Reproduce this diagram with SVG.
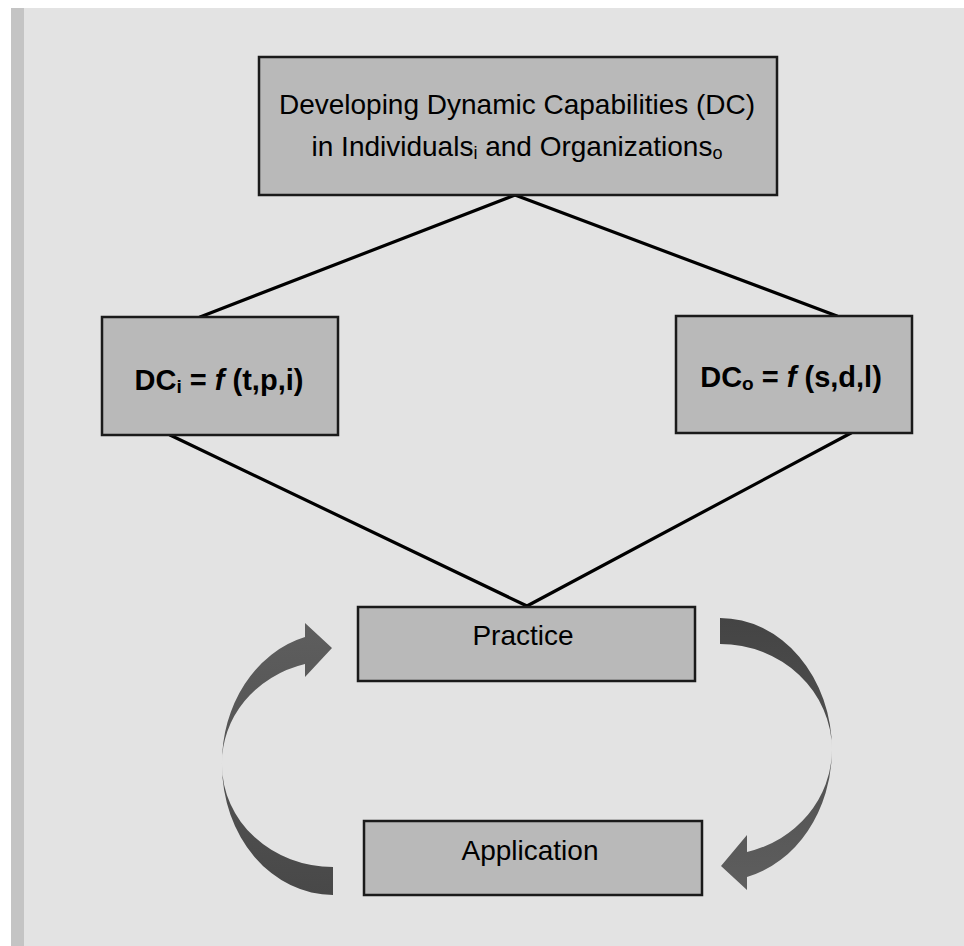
<svg xmlns="http://www.w3.org/2000/svg" width="964" height="946" viewBox="0 0 964 946">
<style>
.box{fill:#b9b9b9;stroke:#1a1a1a;stroke-width:2.5}
.t{font-family:"Liberation Sans",Arial,sans-serif;font-size:28px;fill:#000;text-anchor:middle}
.b{font-weight:bold;font-size:29px}
.ln{stroke:#000;stroke-width:3.2;fill:none;stroke-linecap:round}
</style>
<defs>
<linearGradient id="gL" x1="0" y1="0" x2="0" y2="1">
<stop offset="0" stop-color="#5e5e5e"/><stop offset="1" stop-color="#484848"/>
</linearGradient>
<linearGradient id="gR" x1="0" y1="0" x2="0" y2="1">
<stop offset="0" stop-color="#444444"/><stop offset="1" stop-color="#5e5e5e"/>
</linearGradient>
</defs>
<rect x="0" y="0" width="964" height="946" fill="#ffffff"/>
<rect x="11" y="8" width="953" height="938" fill="#e3e3e3"/>
<rect x="11" y="8" width="13" height="938" fill="#c4c4c4"/>
<g id="connectors">
<line class="ln" x1="515" y1="195" x2="200" y2="317"/>
<line class="ln" x1="515" y1="195" x2="837" y2="316"/>
<line class="ln" x1="170" y1="435" x2="527" y2="606"/>
<line class="ln" x1="851" y1="433" x2="527" y2="606"/>
<path id="arrow-left" fill="url(#gL)" d="M 333 895 A 111 130 0 0 1 222 765 A 111 130 0 0 1 305 637 L 305 623 L 332 648 L 305 677 L 305 664 A 111 102 0 0 0 222 765 A 111 102 0 0 0 333 867 Z"/>
<path id="arrow-right" fill="url(#gR)" d="M 720 618 A 112 132 0 0 1 832 750 A 112 132 0 0 1 747 877 L 747 890 L 721 866 L 747 835 L 747 852 A 112 106 0 0 0 832 750 A 112 106 0 0 0 720 644 Z"/>
</g>
<g id="top">
<rect class="box" x="259" y="57" width="518" height="138"/>
<text class="t" x="517" y="114">Developing Dynamic Capabilities (DC)</text>
<text class="t" x="517" y="156">in Individuals<tspan font-size="18" dy="3">i</tspan><tspan dy="-3"> and Organizations</tspan><tspan font-size="18" dy="3">o</tspan></text>
</g>
<g id="dci">
<rect class="box" x="102" y="317" width="236" height="118"/>
<text class="t b" x="219" y="390">DC<tspan font-size="19" dy="3">i</tspan><tspan dy="-3"> = </tspan><tspan font-style="italic">f</tspan> (t,p,i)</text>
</g>
<g id="dco">
<rect class="box" x="676" y="316" width="236" height="117"/>
<text class="t b" x="791" y="387">DC<tspan font-size="19" dy="3">o</tspan><tspan dy="-3"> = </tspan><tspan font-style="italic">f</tspan> (s,d,l)</text>
</g>
<g id="practice">
<rect class="box" x="358" y="607" width="337" height="74"/>
<text class="t" x="523" y="645">Practice</text>
</g>
<g id="application">
<rect class="box" x="364" y="821" width="338" height="74"/>
<text class="t" x="530" y="860">Application</text>
</g>
</svg>
